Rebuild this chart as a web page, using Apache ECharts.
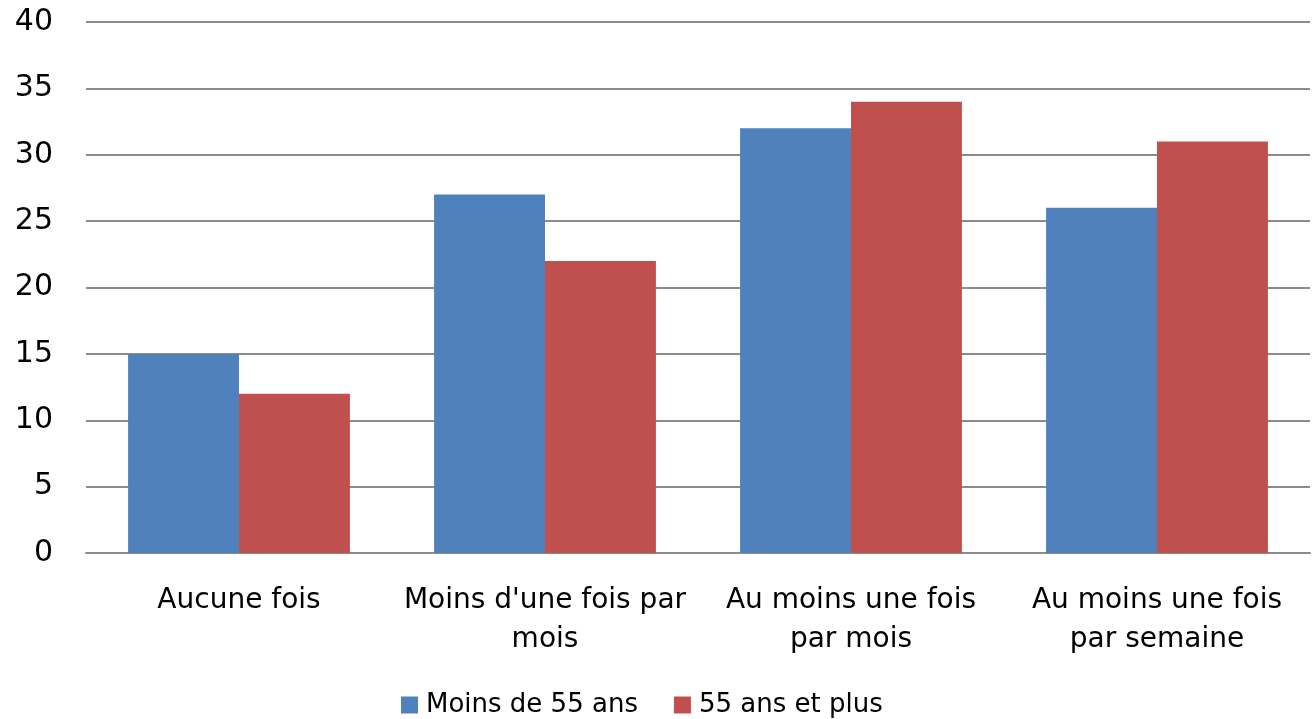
<!DOCTYPE html>
<html>
<head>
<meta charset="utf-8">
<script src="https://cdn.jsdelivr.net/npm/echarts@6/dist/echarts.min.js"></script>
<style>
  html, body { margin: 0; padding: 0; background: #fff; }
  #chart { width: 1314px; height: 719px; }
</style>
</head>
<body>
<div id="chart"></div>
<script>
const categories = [
  "Aucune fois",
  "Moins d'une fois par\nmois",
  "Au moins une fois\npar mois",
  "Au moins une fois\npar semaine"
];
const seriesNames = ["Moins de 55 ans", "55 ans et plus"];
const moins55 = [15, 27, 32, 26];
const plus55 = [12, 22, 34, 31];

const font = "DejaVu Sans";
const chart = echarts.init(document.getElementById("chart"));

chart.setOption({
  animation: false,
  textStyle: { fontFamily: font },
  grid: { left: 86, right: 4, top: 22, bottom: 166, containLabel: false },
  legend: {
    top: 687,
    left: 396,
    itemWidth: 17,
    itemHeight: 17,
    itemGap: 36,
    icon: "rect",
    textStyle: { fontSize: 26, color: "#000", fontFamily: font, padding: [0, 0, 0, 3] },
    data: seriesNames
  },
  xAxis: {
    type: "category",
    data: categories,
    axisLine: { show: true, lineStyle: { color: "#8c8c8c", width: 2 } },
    axisTick: { show: false },
    axisLabel: {
      interval: 0,
      margin: 28,
      fontSize: 28,
      lineHeight: 39,
      color: "#000",
      fontFamily: font
    }
  },
  yAxis: {
    type: "value",
    min: 0,
    max: 40,
    interval: 5,
    axisLine: { show: false },
    axisTick: { show: false },
    axisLabel: { margin: 33, fontSize: 30, color: "#000", fontFamily: font },
    splitLine: { lineStyle: { color: "#8c8c8c", width: 2 } }
  },
  series: [
    {
      name: seriesNames[0],
      type: "bar",
      data: moins55,
      barGap: "0%",
      barCategoryGap: "27.5%",
      itemStyle: { color: "#4f81bd" }
    },
    {
      name: seriesNames[1],
      type: "bar",
      data: plus55,
      itemStyle: { color: "#c0504d" }
    }
  ]
});
</script>
</body>
</html>
